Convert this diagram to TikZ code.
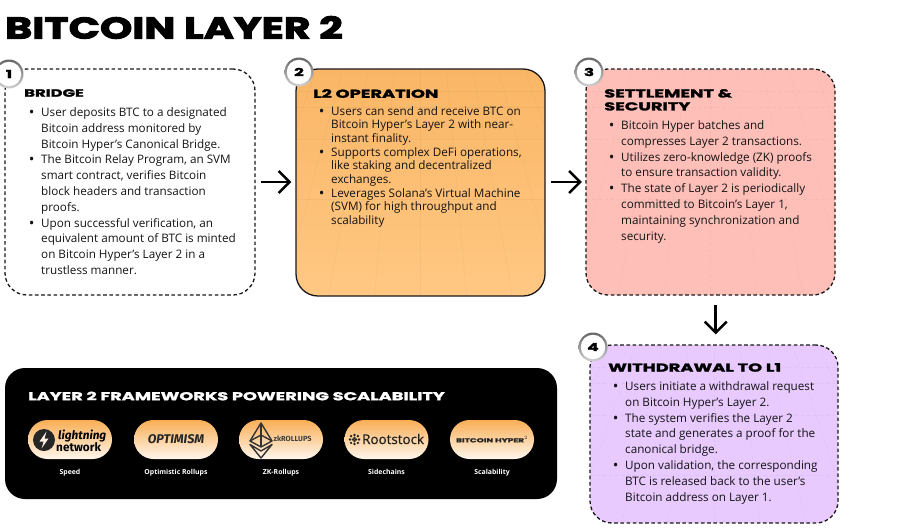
\documentclass[tikz,border=0pt]{standalone}
\usepackage{fontspec}
\usetikzlibrary{arrows.meta,calc,shadings}
\setmainfont{Open Sans}
\newfontfamily\widefont[FakeStretch=1.55,FakeBold=2]{Poppins Bold}
\newfontfamily\titlefont[FakeStretch=1.37,FakeBold=3.5]{Poppins Bold}
\newfontfamily\logofont[ItalicFont={* Italic}]{Fira Sans}
\newfontfamily\rootfont[FakeBold=0.5]{Open Sans}
\newcommand{\bl}{\leavevmode\llap{\raisebox{-1pt}{\fontsize{15}{15}\selectfont\textbullet}\hspace{6.8pt}}}
\newcommand{\ap}{\char"27\relax}
\definecolor{orangeA}{HTML}{FAB666}
\definecolor{orangeB}{HTML}{FFC883}
\definecolor{pinkA}{HTML}{FFBFB9}
\definecolor{purpA}{HTML}{E8CAFF}
\definecolor{pillA}{HTML}{F9AE55}
\definecolor{pillB}{HTML}{FFF6EC}
\tikzset{
 x=1pt,y=-1pt,
 cardbox/.style={rounded corners=22pt,inner sep=0pt,line width=1.3pt,draw=black!90},
 dashedge/.style={dash pattern=on 3.6pt off 2.6pt},
 faintgrid/.style={path picture={
   \foreach \k in {-4,...,4}{\draw[black,opacity=.035,line width=.5pt]
     ($(path picture bounding box.north)+(\k*26,0)$) -- ($(path picture bounding box.south)+(\k*46,0)$);}
   \foreach \k in {22,38,70,130}{\draw[black,opacity=.035,line width=.5pt]
     ($(path picture bounding box.north west)+(0,\k)$) -- ($(path picture bounding box.north east)+(0,\k)$);}
 }},
 badgering/.style={circle,minimum size=29pt,inner sep=0pt,top color=black!60,bottom color=black!18,draw=none},
 badge/.style={circle,minimum size=24.5pt,inner sep=0pt,fill=white,draw=none,font=\widefont\fontsize{11}{11}\selectfont,text=black},
 bodytext/.style={anchor=north west,inner sep=0pt,align=left,text=black!92},
 headtext/.style={anchor=north west,inner sep=0pt,align=left,text=black},
 flowarrow/.style={line width=2.5pt,black,-{Straight Barb[length=11pt,width=22pt,line width=2.5pt]}},
 pillbox/.style={rounded corners=19.5pt,minimum width=84pt,minimum height=39pt,inner sep=0pt,top color=pillA,bottom color=pillB,draw=none},
 caption/.style={text=white,font=\fontsize{6.9}{8}\selectfont\bfseries,inner sep=0pt,anchor=base},
}
\begin{document}
\begin{tikzpicture}
\useasboundingbox (0,0) rectangle (920,530);
\node[headtext,font=\titlefont\fontsize{30}{30}\selectfont] (title) at (5,16) {BITCOIN LAYER 2};

% cards
\node[cardbox,dashedge,minimum width=250pt,minimum height=226pt] (bridge) at (130,182) {};
\node[cardbox,faintgrid,top color=orangeA,bottom color=orangeB,minimum width=249pt,minimum height=227pt] (ltwo) at (420.5,182.5) {};
\node[cardbox,dashedge,faintgrid,fill=pinkA,minimum width=249pt,minimum height=226pt] (settle) at (710.5,182) {};
\node[cardbox,dashedge,faintgrid,fill=purpA,minimum width=248pt,minimum height=178pt] (withdraw) at (714,434) {};

% badges
\node[badgering] (r1) at (9,74) {};
\node[badge] (n1) at (r1) {1};
\node[badgering] (r2) at (299,72) {};
\node[badge] (n2) at (r2) {2};
\node[badgering] (r3) at (589,72) {};
\node[badge] (n3) at (r3) {3};
\node[badgering] (r4) at (593,347) {};
\node[badge] (n4) at (r4) {4};

% headings
\node[headtext,font=\widefont\fontsize{10.6}{11.5}\selectfont] (h1) at (24,89) {BRIDGE};
\node[headtext,font=\widefont\fontsize{11.5}{11.5}\selectfont] (h2) at (313,89) {L2 OPERATION};
\node[headtext,font=\widefont\fontsize{11.5}{13}\selectfont] (h3) at (604,89) {SETTLEMENT \&\\SECURITY};
\node[headtext,font=\widefont\fontsize{11.5}{11.5}\selectfont] (h4) at (608,363) {WITHDRAWAL TO L1};

% body
\node[bodytext,font=\fontsize{11.7}{15.8}\selectfont] (t1) at (41,107.5) {\bl User deposits BTC to a designated\\Bitcoin address monitored by\\Bitcoin Hyper\ap s Canonical Bridge.\\\bl The Bitcoin Relay Program, an SVM\\smart contract, verifies Bitcoin\\block headers and transaction\\proofs.\\\bl Upon successful verification, an\\equivalent amount of BTC is minted\\on Bitcoin Hyper\ap s Layer 2 in a\\trustless manner.};
\node[bodytext,font=\fontsize{11.7}{13.7}\selectfont] (t2) at (331,106) {\bl Users can send and receive BTC on\\Bitcoin Hyper\ap s Layer 2 with near-\\instant finality.\\\bl Supports complex DeFi operations,\\like staking and decentralized\\exchanges.\\\bl Leverages Solana\ap s Virtual Machine\\(SVM) for high throughput and\\scalability};
\node[bodytext,font=\fontsize{11.7}{15.8}\selectfont] (t3) at (621,120.5) {\bl Bitcoin Hyper batches and\\compresses Layer 2 transactions.\\\bl Utilizes zero-knowledge (ZK) proofs\\to ensure transaction validity.\\\bl The state of Layer 2 is periodically\\committed to Bitcoin\ap s Layer 1,\\maintaining synchronization and\\security.};
\node[bodytext,font=\fontsize{11.7}{15.8}\selectfont] (t4) at (625,381.5) {\bl Users initiate a withdrawal request\\on Bitcoin Hyper\ap s Layer 2.\\\bl The system verifies the Layer 2\\state and generates a proof for the\\canonical bridge.\\\bl Upon validation, the corresponding\\BTC is released back to the user\ap s\\Bitcoin address on Layer 1.};

% connectors
\draw[flowarrow] ([xshift=5pt]bridge.east) -- ([xshift=-4pt]ltwo.west |- bridge.east);
\draw[flowarrow] ([xshift=5pt]ltwo.east |- settle.west) -- ([xshift=-3.5pt]settle.west);
\draw[flowarrow] ([xshift=5.2pt,yshift=-9pt]settle.south) -- ([xshift=1.7pt,yshift=10pt]withdraw.north);

% frameworks panel
\node[rounded corners=20pt,fill=black,minimum width=552pt,minimum height=131pt,inner sep=0pt] (panel) at (281,433.5) {};
\node[headtext,text=white,font=\widefont\fontsize{11.45}{11.6}\selectfont] (ph) at (28,391.5) {LAYER 2 FRAMEWORKS POWERING SCALABILITY};

\node[pillbox] (p1) at (70,439.5) {};
\node[pillbox] (p2) at (176,439.5) {};
\node[pillbox] (p3) at (281,439.5) {};
\node[pillbox] (p4) at (386.5,439.5) {};
\node[pillbox] (p5) at (492,439.5) {};

\node[caption] (c1) at (70,474) {Speed};
\node[caption] (c2) at (176,474) {Optimistic Rollups};
\node[caption] (c3) at (281,474) {ZK-Rollups};
\node[caption] (c4) at (386.5,474) {Sidechains};
\node[caption] (c5) at (492,474) {Scalability};

% logos
\fill[black!85] (44,440) circle (11);
\fill[white!90!orange] (46.5,431.5) -- (39.5,441.5) -- (43.7,441.5) -- (41.5,448.5) -- (48.5,438.5) -- (44.5,438.5) -- cycle;
\node[inner sep=0pt,anchor=base west,font=\logofont\itshape\bfseries\fontsize{11.8}{12}\selectfont] (l1a) at (58,439.5) {lightning};
\node[inner sep=0pt,anchor=base west,font=\logofont\bfseries\fontsize{11.8}{12}\selectfont] (l1b) at (56,451) {network};
\node[inner sep=0pt,font=\logofont\itshape\bfseries\fontsize{12.6}{13}\selectfont,text=black!85] (l2) at (176,439.5) {OPTIMISM};
\begin{scope}[line width=1.4pt,black!80,line join=round]
\draw (261,423) -- (250,441) -- (261,447) -- (272,441) -- cycle;
\draw (261,423) -- (261,447);
\draw (250,441) -- (261,435) -- (272,441);
\draw (250,444.5) -- (261,458) -- (272,444.5) -- (261,451) -- cycle;
\end{scope}
\node[inner sep=0pt,anchor=west,font=\logofont\bfseries\fontsize{7.4}{7.5}\selectfont,text=black!75] (l3) at (273.5,439) {zkROLLUPS};
\foreach \dx/\dy in {0/-4.5,0/4.5,-4.5/0,4.5/0,-3.4/-3.4,3.4/-3.4,-3.4/3.4,3.4/3.4,0/-1.5,0/1.5,-1.5/0,1.5/0}
  \fill[black!85] ($(354.5,439.5)+(\dx,\dy)$) circle (1.3);
\node[inner sep=0pt,anchor=west,font=\rootfont\fontsize{13.4}{14}\selectfont,text=black!88] (l4) at (362,439) {Rootstock};
\node[inner sep=0pt,font=\widefont\fontsize{5.8}{6}\selectfont,text=black!85] (l5) at (492,439.5) {BITCOIN HYPER$^{2}$};
\end{tikzpicture}
\end{document}
